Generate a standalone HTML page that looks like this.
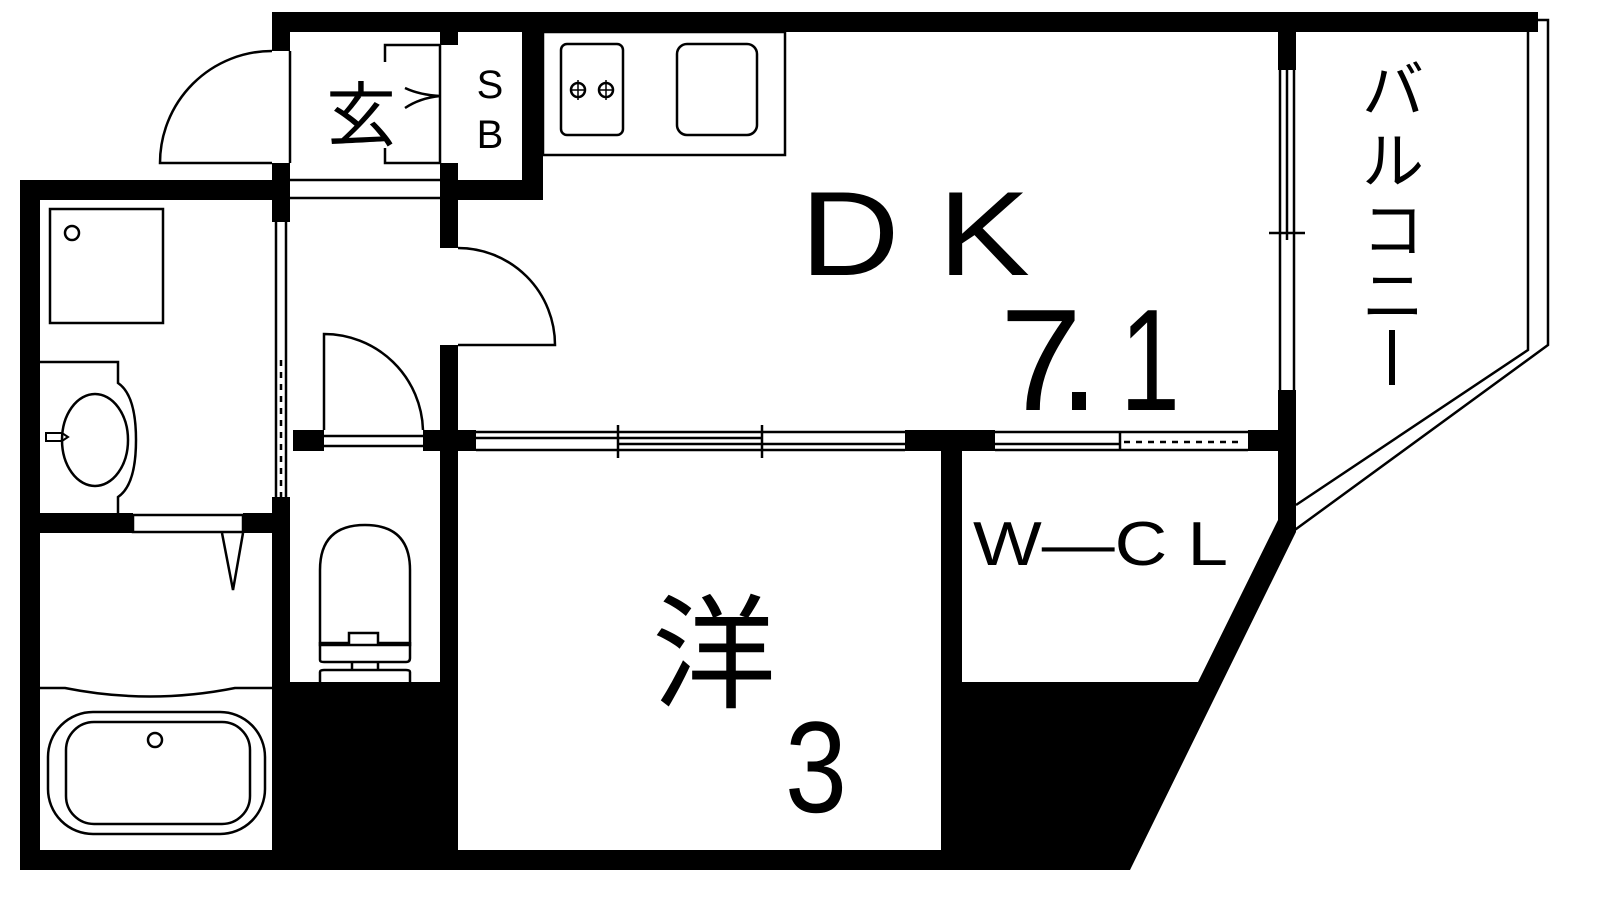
<!DOCTYPE html>
<html><head><meta charset="utf-8"><style>
html,body{margin:0;padding:0;background:#fff;width:1600px;height:900px;overflow:hidden}
svg{display:block}
text{font-family:"Liberation Sans","Noto Sans CJK JP",sans-serif;fill:#000}
</style></head><body>
<svg width="1600" height="900" viewBox="0 0 1600 900" xmlns="http://www.w3.org/2000/svg">
<g fill="none" stroke="#000" stroke-width="2.5">
  <polyline points="1538,20 1528,20 1528,350 1296,505"/>
  <polyline points="1538,20 1548,20 1548,345 1292,532"/>
  <path d="M272,163 L160,163 A112,112 0 0 1 272,51"/>
  <line x1="290" y1="51" x2="290" y2="163"/>
  <line x1="290" y1="180" x2="440" y2="180"/>
  <line x1="290" y1="198" x2="440" y2="198"/>
  <path d="M385,62 V45 H440 M385,148 V163 H440"/>
  <path d="M405,88 Q420,95 440,96 M405,108 Q420,98 440,96" />
  <line x1="440" y1="45" x2="440" y2="163"/>
  <rect x="543" y="32" width="242" height="123"/>
  <rect x="561" y="44" width="62" height="91" rx="6"/>
  <rect x="677" y="44" width="80" height="91" rx="10"/>
  <circle cx="578" cy="90" r="7"/><circle cx="606" cy="90" r="7"/>
  <path d="M578,80V100M571,90H585M606,80V100M599,90H613" stroke-width="1.5"/>
  <path d="M458,345 L555,345 A97,97 0 0 0 458,248"/>
  <path d="M324,430 L324,334 A99,99 0 0 1 423,430"/>
  <line x1="324" y1="436" x2="423" y2="436"/><line x1="324" y1="446" x2="423" y2="446"/>
  <line x1="276" y1="222" x2="276" y2="497"/><line x1="286" y1="222" x2="286" y2="497"/>
  <line x1="281" y1="360" x2="281" y2="497" stroke-dasharray="6,6"/>
  <line x1="476" y1="432" x2="905" y2="432"/><line x1="476" y1="450" x2="905" y2="450"/>
  <line x1="476" y1="438" x2="762" y2="438"/><line x1="618" y1="444" x2="905" y2="444"/>
  <line x1="618" y1="425" x2="618" y2="458"/><line x1="762" y1="425" x2="762" y2="458"/>
  <line x1="995" y1="432" x2="1248" y2="432"/><line x1="995" y1="450" x2="1248" y2="450"/>
  <line x1="995" y1="444" x2="1120" y2="444"/><line x1="1120" y1="432" x2="1120" y2="450"/>
  <line x1="1124" y1="442" x2="1244" y2="442" stroke-dasharray="6,6"/>
  <line x1="1280" y1="70" x2="1280" y2="390"/><line x1="1294" y1="70" x2="1294" y2="390"/>
  <line x1="1287" y1="70" x2="1287" y2="240"/><line x1="1269" y1="233" x2="1305" y2="233"/>
  <rect x="50" y="209" width="113" height="114"/>
  <circle cx="72" cy="233" r="7"/>
  <path d="M40,362 H118 V383 Q136,395 136,440 Q136,485 118,497 V513"/>
  <ellipse cx="95" cy="440" rx="33" ry="46"/>
  <path d="M46,433 H62 L68,437 L62,441 H46 Z" stroke-width="2"/>
  <rect x="133" y="515" width="110" height="17"/>
  <path d="M222,533 L233,590 L243,533"/>
  <path d="M40,688 H65 Q150,705 235,688 H272"/>
  <rect x="48" y="712" width="217" height="122" rx="45"/>
  <rect x="66" y="722" width="184" height="102" rx="28"/>
  <circle cx="155" cy="740" r="7"/>
  <path d="M320,645 V570 Q320,525 365,525 Q410,525 410,570 V645 Z"/>
  <path d="M320,642 V660 Q320,662 324,662 H406 Q410,662 410,658 V642"/>
  <path d="M320,643 H349 V633 H378 V643 H410"/>
  <line x1="352" y1="662" x2="352" y2="670"/><line x1="378" y1="662" x2="378" y2="670"/>
  <path d="M320,682 V672 Q320,670 324,670 H406 Q410,670 410,672 V682"/>
</g>
<g fill="#000">
  <rect x="272" y="12" width="1266" height="20"/>
  <rect x="272" y="12" width="18" height="39"/>
  <rect x="272" y="163" width="18" height="59"/>
  <rect x="272" y="497" width="18" height="373"/>
  <rect x="20" y="180" width="270" height="20"/>
  <rect x="20" y="180" width="20" height="690"/>
  <rect x="20" y="850" width="1110" height="20"/>
  <rect x="40" y="513" width="93" height="20"/><rect x="243" y="513" width="30" height="20"/>
  <rect x="440" y="12" width="18" height="33"/>
  <rect x="440" y="163" width="18" height="85"/>
  <rect x="440" y="345" width="18" height="525"/>
  <rect x="522" y="12" width="21" height="188"/>
  <rect x="440" y="180" width="103" height="20"/>
  <rect x="293" y="430" width="31" height="21"/>
  <rect x="423" y="430" width="53" height="21"/>
  <rect x="905" y="430" width="90" height="21"/>
  <rect x="1248" y="430" width="48" height="21"/>
  <rect x="290" y="682" width="150" height="170"/>
  <rect x="941" y="451" width="21" height="400"/>
  <rect x="1278" y="32" width="18" height="38"/>
  <rect x="1278" y="390" width="18" height="132"/>
  <polygon points="962,682 1198,682 1278,520 1296,522 1296,532 1130,870 962,870"/>
</g>
<text x="326" y="140" font-size="70">玄</text>
<text x="490" y="98" font-size="40" text-anchor="middle">S</text>
<text x="490" y="148" font-size="40" text-anchor="middle">B</text>
<text x="800" y="275" font-size="120" textLength="230" lengthAdjust="spacingAndGlyphs">D K</text>
<text x="1000" y="410" font-size="145" textLength="82" lengthAdjust="spacingAndGlyphs">7</text>
<rect x="1072" y="392" width="14" height="18" fill="#000"/>
<text x="1120" y="410" font-size="145" textLength="60" lengthAdjust="spacingAndGlyphs">1</text>
<text x="973" y="565" font-size="62" textLength="255" lengthAdjust="spacingAndGlyphs">W—C L</text>
<text x="652" y="698" font-size="124">洋</text>
<text x="785" y="812" font-size="130" textLength="62" lengthAdjust="spacingAndGlyphs">3</text>
<g font-size="62" text-anchor="middle">
<text x="1393" y="112">バ</text>
<text x="1393" y="183">ル</text>
<text x="1393" y="252">コ</text>
<text x="1393" y="318">ニ</text>
</g>
<rect x="1389" y="330" width="6" height="55" fill="#000"/>
</svg>
</body></html>
